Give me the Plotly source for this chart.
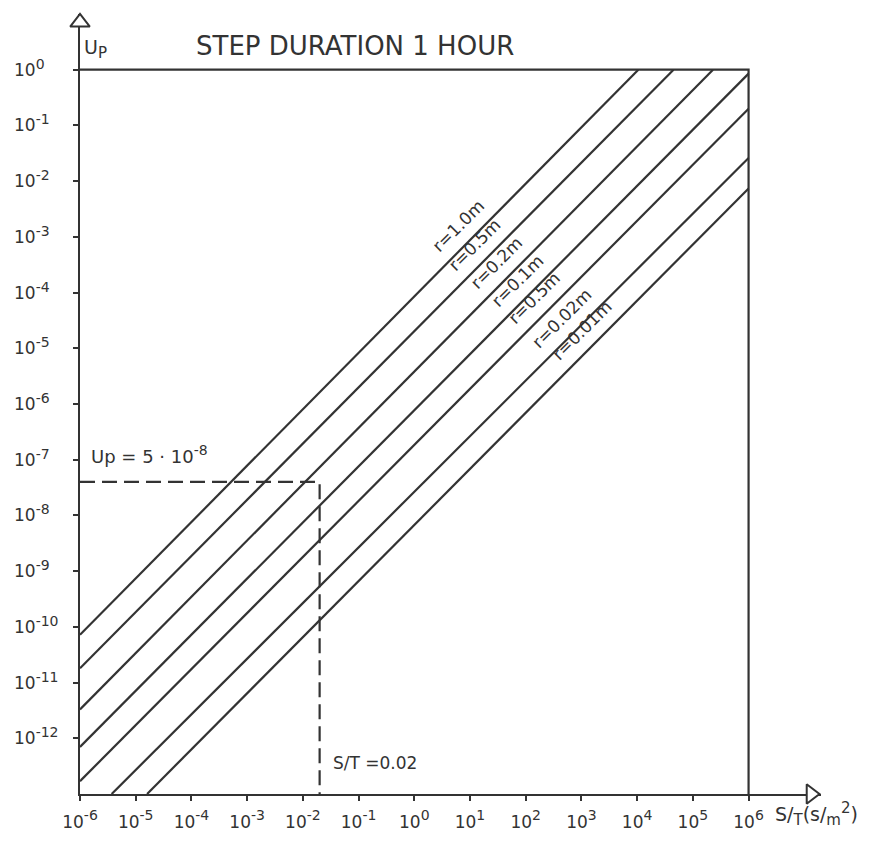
import numpy as np
import plotly.graph_objects as go

# ---------------- data ----------------
x_tick_values = [1e-6, 1e-5, 1e-4, 1e-3, 1e-2, 1e-1, 1e0, 1e1, 1e2, 1e3, 1e4, 1e5, 1e6]
x_tick_exponents = ["-6", "-5", "-4", "-3", "-2", "-1", "0", "1", "2", "3", "4", "5", "6"]
y_tick_values = [1e0, 1e-1, 1e-2, 1e-3, 1e-4, 1e-5, 1e-6, 1e-7, 1e-8, 1e-9, 1e-10, 1e-11, 1e-12]
y_tick_exponents = ["0", "-1", "-2", "-3", "-4", "-5", "-6", "-7", "-8", "-9", "-10", "-11", "-12"]

radius_labels = ["r=1.0m", "r=0.5m", "r=0.2m", "r=0.1m", "r=0.5m", "r=0.02m", "r=0.01m"]
line_x_start = [1e-6, 1e-6, 1e-6, 1e-6, 1e-6, 3.7e-6, 1.6e-5]
line_y_start = [7.2e-11, 1.8e-11, 3.3e-12, 7.0e-13, 1.7e-13, 1e-13, 1e-13]
line_x_end = [1.05e4, 4.5e4, 2.3e5, 1e6, 1e6, 1e6, 1e6]
line_y_end = [1.0, 1.0, 1.0, 0.85, 0.2, 0.026, 0.0074]

frame_x = [1e-6, 1e6]       # top border / right border extent
frame_y = [1e-13, 1e0]

up_value = 4e-8             # dashed horizontal guide
st_value = 0.02             # dashed vertical guide

title_text = "STEP DURATION 1 HOUR"
up_text = "Up = 5 · 10<sup><span style='font-size:14px'>-8</span></sup>"
st_text = "S/T =0.02"
x_title_text = "S/<sub><span style='font-size:15px'>T</span></sub>(s/<sub><span style='font-size:15px'>m</span></sub><sup><span style='font-size:15px'>2</span></sup>)"

# ---------------- layout positions (log10 of x for label centres) ----------------
label_center_logx = [0.786, 1.074, 1.469, 1.846, 2.151, 2.654, 3.013]

INK = "#333333"
FONT = "DejaVu Sans, Liberation Sans, sans-serif"
SUP = "<sup><span style='font-size:14px'>{}</span></sup>"

X_RANGE = [-6, 7.30]
Y_RANGE = [-13, 1.0]

x_tick_labels = ["10" + SUP.format(e) for e in x_tick_exponents]
y_tick_labels = ["10" + SUP.format(e) for e in y_tick_exponents]

fig = go.Figure()

# diagonal r-lines
for xs, ys, xe, ye, name in zip(line_x_start, line_y_start, line_x_end, line_y_end, radius_labels):
    fig.add_trace(go.Scatter(x=[xs, xe], y=[ys, ye], mode="lines",
                             line=dict(color=INK, width=2.2), name=name,
                             showlegend=False, hoverinfo="skip"))

# frame: top border and right border
fig.add_trace(go.Scatter(x=[frame_x[0], frame_x[1], frame_x[1]],
                         y=[frame_y[1], frame_y[1], frame_y[0]],
                         mode="lines", line=dict(color=INK, width=2.2),
                         showlegend=False, hoverinfo="skip"))

# dashed guides
fig.add_trace(go.Scatter(x=[frame_x[0], st_value, st_value],
                         y=[up_value, up_value, frame_y[0]],
                         mode="lines", line=dict(color=INK, width=2.2, dash="15px,7px"),
                         showlegend=False, hoverinfo="skip"))

# axis arrow heads
fig.add_trace(go.Scatter(x=[frame_x[0]], y=[10 ** 0.85], mode="markers",
                         marker=dict(symbol="triangle-up", size=17, color="white",
                                     line=dict(color=INK, width=2)),
                         cliponaxis=False, showlegend=False, hoverinfo="skip"))
fig.add_trace(go.Scatter(x=[10 ** 7.12], y=[frame_y[0]], mode="markers",
                         marker=dict(symbol="triangle-right", size=17, color="white",
                                     line=dict(color=INK, width=2)),
                         cliponaxis=False, showlegend=False, hoverinfo="skip"))

annotations = []

# r labels, placed along each line
for lx, xs, ys, xe, ye, text in zip(label_center_logx, line_x_start, line_y_start,
                                    line_x_end, line_y_end, radius_labels):
    ly = np.interp(lx, [np.log10(xs), np.log10(xe)], [np.log10(ys), np.log10(ye)])
    annotations.append(dict(x=lx, y=ly, xref="x", yref="y", text=text, showarrow=False,
                            textangle=-45, yshift=26, xanchor="center", yanchor="middle",
                            font=dict(family=FONT, size=17, color=INK)))

# y tick labels (left aligned like the original lettering)
for v, t in zip(y_tick_values, y_tick_labels):
    annotations.append(dict(x=0, y=np.log10(v), xref="paper", yref="y", text=t,
                            showarrow=False, xanchor="left", yanchor="middle", xshift=-68,
                            yshift=2, font=dict(family=FONT, size=17, color=INK)))

annotations += [
    dict(x=0.371, y=0.959, xref="paper", yref="paper", text=title_text, showarrow=False,
         xanchor="center", yanchor="middle",
         font=dict(family=FONT, size=26, color=INK)),
    dict(x=0.003, y=0.955, xref="paper", yref="paper",
         text="U<sub><span style='font-size:15px'>P</span></sub>", showarrow=False,
         xanchor="left", yanchor="middle", font=dict(family=FONT, size=19, color=INK)),
    dict(x=-6, y=np.log10(up_value), xref="x", yref="y", text=up_text, showarrow=False,
         xanchor="left", yanchor="bottom", xshift=9, yshift=13,
         font=dict(family=FONT, size=18, color=INK)),
    dict(x=np.log10(st_value), y=-13, xref="x", yref="y", text=st_text, showarrow=False,
         xanchor="left", yanchor="middle", xshift=11, yshift=31,
         font=dict(family=FONT, size=17, color=INK)),
    dict(x=0.935, y=-0.026, xref="paper", yref="paper",
         text=x_title_text, showarrow=False,
         xanchor="left", yanchor="middle", font=dict(family=FONT, size=19, color=INK)),
]

fig.update_layout(
    width=878, height=844,
    margin=dict(l=80, r=57, t=14, b=48),
    paper_bgcolor="white", plot_bgcolor="white",
    showlegend=False,
    annotations=annotations,
    font=dict(family=FONT, color=INK),
)
fig.update_xaxes(type="log", range=X_RANGE, tickvals=x_tick_values, ticktext=x_tick_labels,
                 showgrid=False, zeroline=False, showline=True, linecolor=INK, linewidth=2.2,
                 ticks="outside", ticklen=5, tickwidth=2, tickcolor=INK, ticklabelstandoff=6,
                 tickfont=dict(family=FONT, size=17, color=INK), layer="below traces")
fig.update_yaxes(type="log", range=Y_RANGE, tickvals=y_tick_values, ticktext=[""] * len(y_tick_values),
                 showgrid=False, zeroline=False, showline=True, linecolor=INK, linewidth=2.2,
                 ticks="outside", ticklen=5, tickwidth=2, tickcolor=INK, layer="below traces")

fig.write_html("out.html")
